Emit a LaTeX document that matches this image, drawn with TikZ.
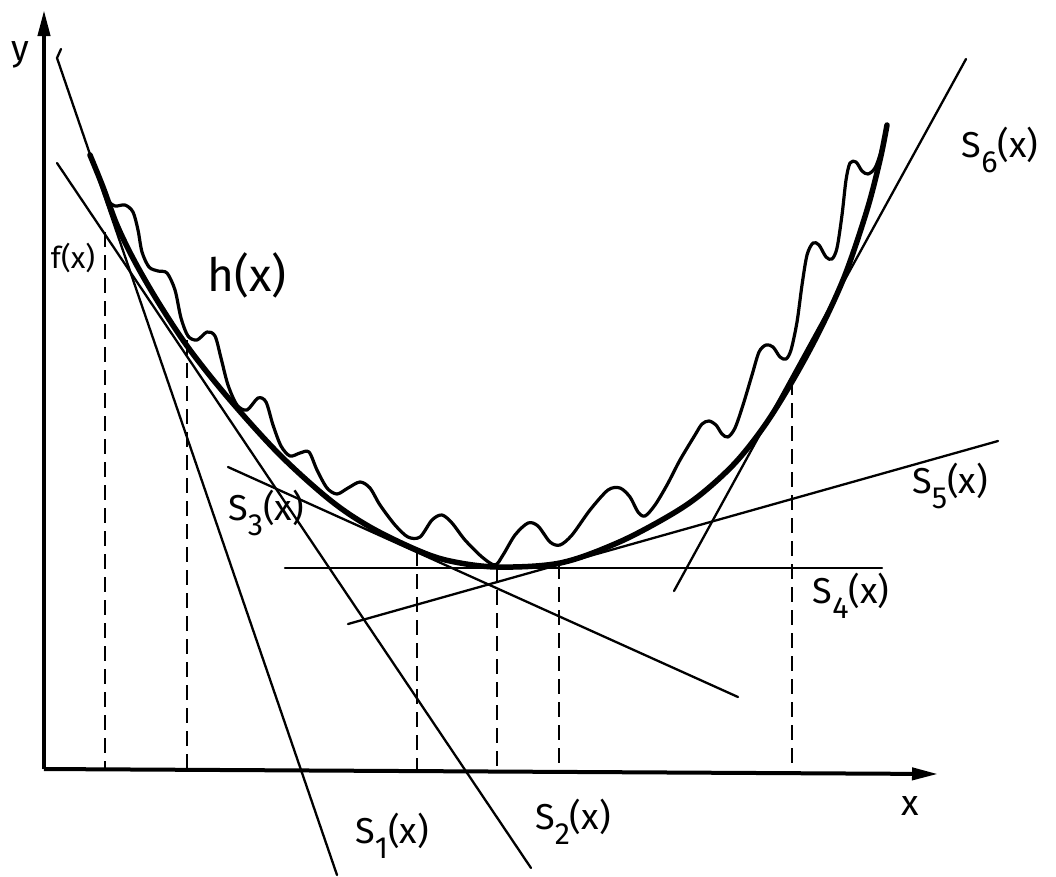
\documentclass[tikz,border=0pt]{standalone}
\usepackage{fontspec}
\setmainfont{Fira Sans}
\usetikzlibrary{arrows.meta}
\newcommand\lsub[1]{\raisebox{-0.42em}{\scalebox{0.85}{#1}}}
\begin{document}
\begin{tikzpicture}[x=1pt,y=-1pt,
  axis/.style={line width=4pt,-{Triangle[length=26pt,width=12pt]}},
  fcurve/.style={line width=5.5pt,line cap=round,line join=round},
  hcurve/.style={line width=3.2pt,line cap=round,line join=round},
  tangent/.style={line width=2.3pt,line cap=round},
  guide/.style={line width=2.4pt,dash pattern=on 15pt off 8pt},
  lbl/.style={font=\fontsize{36}{40}\selectfont,inner sep=0pt},
  biglbl/.style={font=\fontsize{46}{50}\selectfont,inner sep=0pt},
  smalllbl/.style={font=\fontsize{30}{34}\selectfont,inner sep=0pt}]
\fill[white] (0,0) rectangle (1056,876);
\useasboundingbox (0,0) rectangle (1056,876);

% axes
\coordinate (O) at (44,769);
\coordinate (Ytip) at (44,10);
\coordinate (Xtip) at (938,774);
\draw[axis] (O) -- (Ytip);
\draw[axis] (O) -- (Xtip);

% dashed guides
\foreach \gx/\gy in {105/232, 187/340, 417/551, 497/567, 559/564, 792/380}
  \draw[guide] (\gx,\gy) -- (\gx,770);

% tangent lines
\coordinate (s1a) at (57,58); \coordinate (s1b) at (337,875);
\coordinate (s2a) at (57,163); \coordinate (s2b) at (531,868);
\coordinate (s3a) at (228,467); \coordinate (s3b) at (738,697);
\coordinate (s4a) at (285,568); \coordinate (s4b) at (882,568);
\coordinate (s5a) at (348,624); \coordinate (s5b) at (998,441);
\coordinate (s6a) at (674,591); \coordinate (s6b) at (966,59);
\draw[tangent] (61,49) -- (s1a) -- (s1b);
\draw[tangent] (s2a) -- (s2b);
\draw[tangent] (s3a) -- (s3b);
\draw[tangent] (s4a) -- (s4b);
\draw[tangent] (s5a) -- (s5b);
\draw[tangent] (s6a) -- (s6b);

% f(x)
\draw[fcurve] plot[smooth,tension=0.55] coordinates {
 (90,155) (103,187) (117,225) (135,262) (160,305) (190,350) (230,400)
 (280,455) (330,500) (370,527) (417,550) (450,561) (497,567) (560,563)
 (617,543) (667,517) (700,495) (735,463) (765,425) (793,380) (820,330)
 (845,275) (867,210) (880,160) (887,125)};

% h(x)
\draw[hcurve] plot[smooth,tension=0.5] coordinates {
 (90,155) (100,180) (108,200) (115,206) (125,205) (133,212) (138,230)
 (142,252) (149,267) (158,271) (167,273) (175,290) (181,318) (188,336)
 (197,340) (207,332) (215,336) (221,358) (228,385) (237,405) (247,410)
 (258,398) (266,402) (273,425) (281,446) (290,456) (300,453) (309,452)
 (317,470) (327,488) (337,494) (348,488) (360,482) (370,488) (380,505)
 (395,525) (408,537) (420,537) (432,520) (442,515) (452,523) (465,540)
 (482,557) (495,565) (503,555) (515,535) (528,523) (538,526) (550,542)
 (560,545) (572,535) (590,510) (608,490) (620,488) (630,497) (638,512)
 (645,516) (655,505) (667,485) (680,460) (695,435) (702,424) (709,421)
 (716,425) (722,434) (728,437) (735,428) (743,405) (752,375) (759,352)
 (766,345) (773,347) (780,357) (786,359) (791,350) (797,322) (802,285)
 (807,255) (813,243) (819,245) (826,257) (832,259) (837,248) (842,215)
 (846,180) (850,163) (856,162) (862,171) (868,174) (875,168) (881,152)
 (885,138) (887,125)};

% labels
\node[lbl] (ly) at (20,55) {y};
\node[lbl] (lx) at (910,806) {x};
\node[smalllbl] (lf) at (73,258) {f(x)};
\node[biglbl] (lh) at (247,275) {h(x)};
\node[lbl] (l1) at (392,836) {S\lsub{1}(x)};
\node[lbl] (l2) at (573,822) {S\lsub{2}(x)};
\node[lbl] (l3) at (266,513) {S\lsub{3}(x)};
\node[lbl] (l4) at (851,596) {S\lsub{4}(x)};
\node[lbl] (l5) at (950,486) {S\lsub{5}(x)};
\node[lbl] (l6) at (1000,150) {S\lsub{6}(x)};
\end{tikzpicture}
\end{document}
